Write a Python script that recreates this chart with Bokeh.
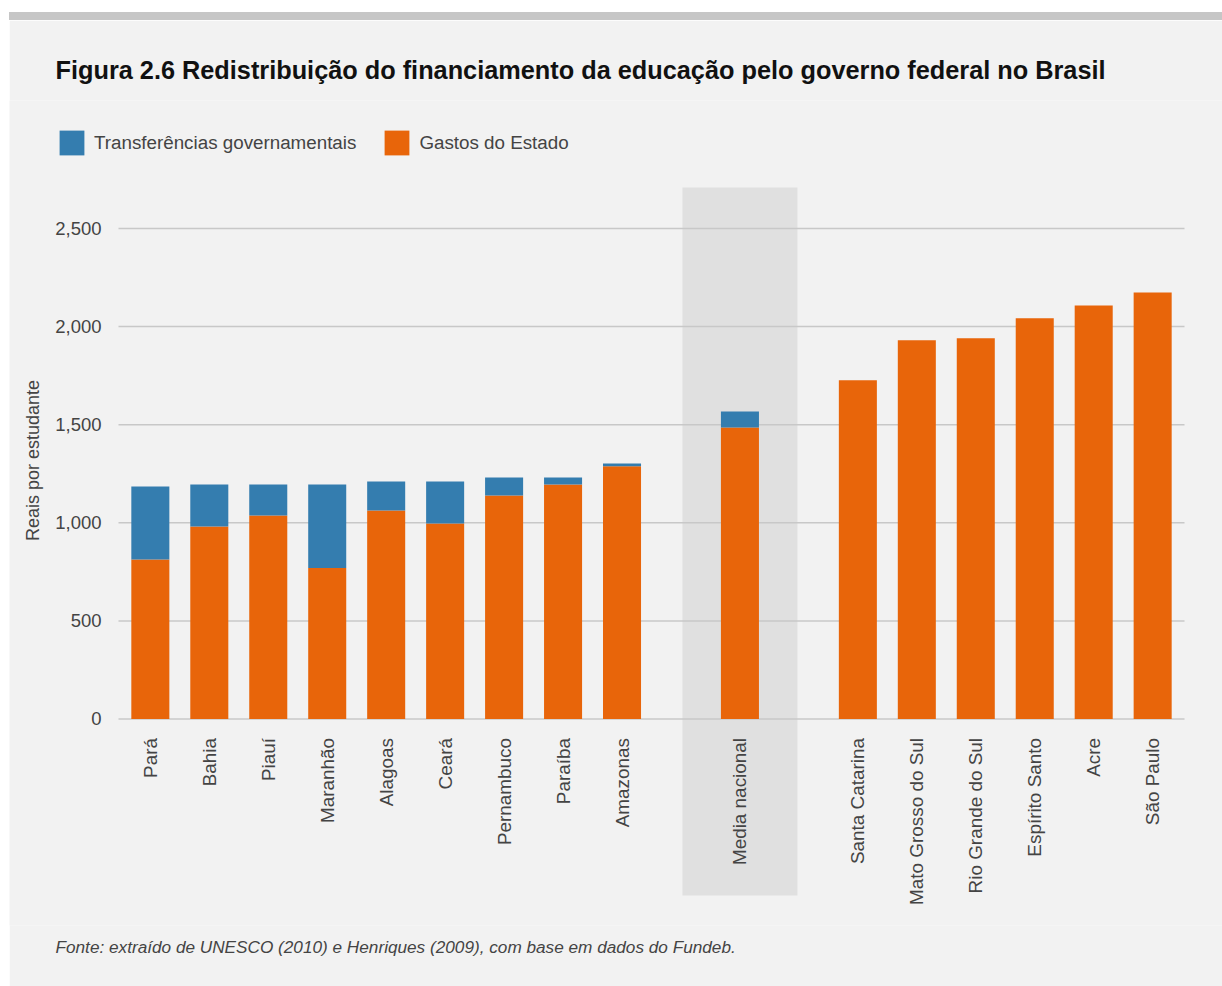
from bokeh.plotting import figure
from bokeh.models import (Range1d, FixedTicker, NumeralTickFormatter, Legend, LegendItem,
                          BoxAnnotation, Title, Label, ColumnDataSource, Div)
from bokeh.layouts import column
from bokeh.embed import file_html
from bokeh.resources import INLINE
import math

# ---- data ----
group_a = ["Pará", "Bahia", "Piauí", "Maranhão", "Alagoas", "Ceará", "Pernambuco", "Paraíba", "Amazonas"]
group_b = ["Media nacional"]
group_c = ["Santa Catarina", "Mato Grosso do Sul", "Rio Grande do Sul", "Espírito Santo", "Acre", "São Paulo"]
gastos = [813, 981, 1037, 769, 1063, 997, 1139, 1195, 1288, 1486, 1726, 1930, 1940, 2042, 2108, 2174]
transf = [372, 214, 158, 426, 148, 214, 92, 36, 14, 81, 0, 0, 0, 0, 0, 0]
y_ticks = [0, 500, 1000, 1500, 2000, 2500]

title_text = "Figura 2.6 Redistribuição do financiamento da educação pelo governo federal no Brasil"
source_text = "Fonte: extraído de UNESCO (2010) e Henriques (2009), com base em dados do Fundeb."
legend_labels = ["Transferências governamentais", "Gastos do Estado"]
y_label = "Reais por estudante"

ORANGE = "#e8650a"
BLUE = "#347daf"
BG = "#f2f2f2"
FONT = "Liberation Sans"
TXT = "#444444"

# positions: one empty slot between groups
names, xs = [], []
pos = 0
for g in (group_a, group_b, group_c):
    for n in g:
        names.append(n)
        xs.append(pos)
        pos += 1
    pos += 1

src = ColumnDataSource(dict(x=xs, gastos=gastos, transf=transf, name=names))

X0, X1 = -0.54, 17.54  # plotted extent of the bar area

p = figure(width=1213, height=966, output_backend="svg", toolbar_location=None,
           x_range=Range1d(-2.3887, 18.1845), y_range=Range1d(-1052.5, 3152.4),
           min_border_left=0, min_border_right=0, min_border_top=80, min_border_bottom=61,
           margin=(0, 0, 0, 9))
p.background_fill_color = BG
p.border_fill_color = BG
p.outline_line_color = None

media_x = xs[names.index("Media nacional")]
band = BoxAnnotation(left=media_x - 0.975, right=media_x + 0.975, bottom=-899.6, top=2709,
                     fill_color="#e0e0e0", fill_alpha=1, line_color=None, level="image")
p.add_layout(band)

# horizontal grid lines limited to the bar area
p.xgrid.visible = False
p.ygrid.visible = False
p.segment(x0=X0, x1=X1, y0=y_ticks, y1=y_ticks, line_color="#c8c8c8", line_width=1.5)

rs = p.vbar_stack(["gastos", "transf"], x="x", width=0.645, source=src,
                  color=[ORANGE, BLUE], line_color=None)

# y axis at left edge of bar area
ya = p.yaxis[0]
ya.fixed_location = X0
ya.ticker = FixedTicker(ticks=y_ticks)
ya.formatter = NumeralTickFormatter(format="0,0")
ya.axis_line_color = None
ya.major_tick_line_color = None
ya.minor_tick_line_color = None
ya.major_tick_in = 0
ya.major_tick_out = 0
ya.major_label_standoff = 17
ya.major_label_text_font = FONT
ya.major_label_text_font_size = "18.5px"
ya.major_label_text_color = TXT

# x axis at y=0
xa = p.xaxis[0]
xa.fixed_location = 0
xa.ticker = FixedTicker(ticks=xs)
xa.major_label_overrides = {float(x): n for x, n in zip(xs, names)}
xa.major_label_orientation = math.pi / 2
xa.axis_line_color = None
xa.major_tick_line_color = None
xa.minor_tick_line_color = None
xa.major_tick_in = 0
xa.major_tick_out = 0
xa.major_label_standoff = 19
xa.major_label_text_font = FONT
xa.major_label_text_font_size = "18.9px"
xa.major_label_text_color = TXT

# y axis title
p.add_layout(Label(x=23.5, y=465, x_units="screen", y_units="screen", text=y_label,
                   angle=math.pi / 2, text_align="center", text_baseline="middle",
                   text_font=FONT, text_font_size="18px", text_color=TXT))

# legend
legend = Legend(items=[LegendItem(label=legend_labels[0], renderers=[rs[1]]),
                       LegendItem(label=legend_labels[1], renderers=[rs[0]])],
                location=(47, 767), orientation="horizontal",
                glyph_width=31, glyph_height=31, label_standoff=7, spacing=25,
                padding=0, margin=0, border_line_color=None, background_fill_alpha=0,
                label_text_font=FONT, label_text_font_size="18.8px", label_text_color=TXT)
p.add_layout(legend)

# title
p.title = Title(text=title_text, align="left", offset=46, text_font=FONT,
                text_font_size="25.3px", text_font_style="bold", text_color="#111111",
                standoff=34)

p.add_layout(Title(text=source_text, align="left", offset=46, text_font=FONT,
                   text_font_size="17.2px", text_font_style="italic", text_color=TXT,
                   standoff=18), "below")

strip = Div(width=1213, height=8, margin=(12, 0, 0, 9), styles={"background-color": "#c6c6c6"})
layout = column(strip, p, spacing=0)

open("out.html", "w").write(file_html(layout, INLINE))
